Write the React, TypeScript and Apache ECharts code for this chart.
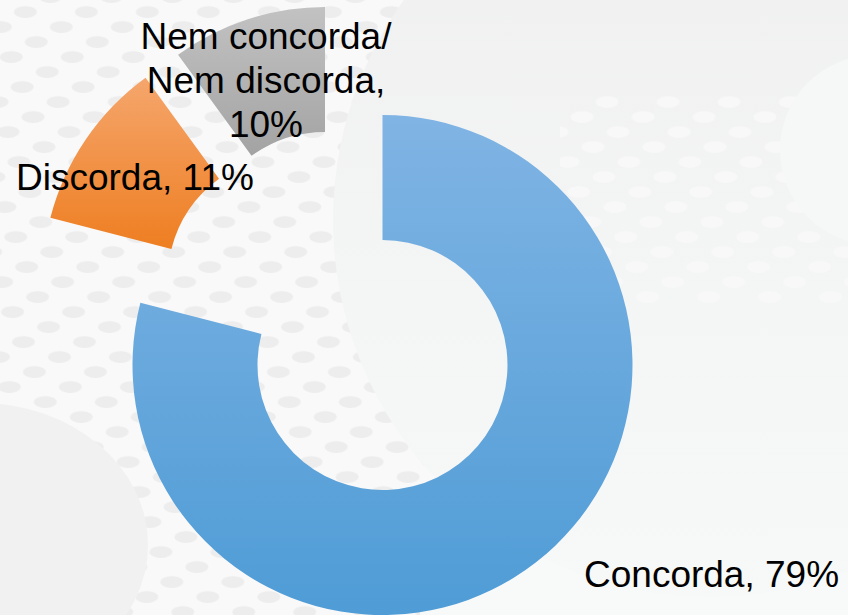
import React, { useEffect, useRef } from "react";
import * as echarts from "echarts";

// ---- data ----
const categories: string[] = ["Concorda", "Discorda", "Nem concorda/\nNem discorda"];
const values: number[] = [79, 11, 10];

// ---- styles ----
const colorsTop: string[] = ["#80b4e4", "#f5a66d", "#c2c2c2"];
const colorsBottom: string[] = ["#4f9cd6", "#ee7e21", "#a3a3a3"];

// ---- layout (exploded slices get their own centre) ----
const centers: [number, number][] = [
  [382.5, 365],
  [292.5, 280],
  [325, 257],
];
const labelPos: [number, number, string][] = [
  [584, 574, "left"],
  [16, 177, "left"],
  [266, 80, "center"],
];

function gradient(i: number) {
  return new echarts.graphic.LinearGradient(0, 0, 0, 1, [
    { offset: 0, color: colorsTop[i] },
    { offset: 1, color: colorsBottom[i] },
  ]);
}

function Background() {
  return (
    <svg
      width={848}
      height={615}
      style={{ position: "absolute", left: 0, top: 0 }}
    >
      <defs>
        <pattern
          id="dots"
          width="61"
          height="30"
          patternUnits="userSpaceOnUse"
          patternTransform="skewX(20) translate(6 4)"
        >
          <ellipse cx="0" cy="0" rx="11.5" ry="6" fill="#ededed" transform="translate(15 8) skewX(-20)" />
          <ellipse cx="0" cy="0" rx="11.5" ry="6" fill="#ededed" transform="translate(45.5 23) skewX(-20)" />
        </pattern>
        <pattern
          id="dotsW"
          width="61"
          height="30"
          patternUnits="userSpaceOnUse"
          patternTransform="skewX(20) translate(6 4)"
        >
          <ellipse cx="0" cy="0" rx="11.5" ry="6" fill="#f9f9f9" transform="translate(15 8) skewX(-20)" />
          <ellipse cx="0" cy="0" rx="11.5" ry="6" fill="#f9f9f9" transform="translate(45.5 23) skewX(-20)" />
        </pattern>
        <linearGradient id="disc" x1="0" y1="0" x2="0" y2="1">
          <stop offset="0" stopColor="#efefef" />
          <stop offset="0.6" stopColor="#f4f5f5" />
          <stop offset="1" stopColor="#f7f8f8" />
        </linearGradient>
        <clipPath id="discClip">
          <circle cx="710" cy="220" r="377" />
        </clipPath>
      </defs>
      <rect x="0" y="0" width="848" height="615" fill="#f9f9f9" />
      <rect x="0" y="0" width="848" height="615" fill="url(#dots)" />
      <rect x="600" y="420" width="248" height="195" fill="#f7f8f8" />
      <rect x="420" y="560" width="428" height="55" fill="#f8f9f9" />
      <circle cx="710" cy="220" r="377" fill="url(#disc)" />
      <g clipPath="url(#discClip)">
        <rect x="560" y="95" width="288" height="210" fill="url(#dotsW)" opacity="0.8" />
      </g>
      <circle cx="875" cy="150" r="95" fill="#f6f7f7" />
      <ellipse cx="-20" cy="545" rx="168" ry="142" fill="#f1f1f1" />
    </svg>
  );
}

export default function App() {
  const ref = useRef<HTMLDivElement>(null);

  useEffect(() => {
    if (!ref.current) return;
    const chart = echarts.init(ref.current, null, { renderer: "svg" });
    const series = categories.map((_, k) => ({
      type: "pie",
      radius: [125, 250],
      center: centers[k],
      startAngle: 90,
      clockwise: true,
      silent: true,
      avoidLabelOverlap: false,
      emphasis: { disabled: true },
      itemStyle: { borderWidth: 0 },
      label: {
        show: true,
        position: "outside",
        fontSize: 37,
        fontFamily: "'Liberation Sans', Arial, sans-serif",
        color: "#000000",
        lineHeight: 44,
        formatter: (p: any) =>
          p.name.indexOf("\n") >= 0
            ? `${p.name},\n${p.percent}%`
            : `${p.name}, ${p.percent}%`,
      },
      labelLine: { show: false },
      labelLayout: () => ({
        x: labelPos[k][0],
        y: labelPos[k][1],
        align: labelPos[k][2],
        verticalAlign: "middle",
      }),
      data: categories.map((name, i) => ({
        name,
        value: values[i],
        itemStyle: { color: i === k ? gradient(i) : "rgba(0,0,0,0)" },
        label: { show: i === k },
      })),
    }));
    chart.setOption({
      animation: false,
      backgroundColor: "transparent",
      series,
    } as any);
    return () => chart.dispose();
  }, []);

  return (
    <div
      style={{
        position: "fixed",
        left: 0,
        top: 0,
        width: 848,
        height: 615,
        overflow: "hidden",
      }}
    >
      <Background />
      <div
        ref={ref}
        style={{ position: "absolute", left: 0, top: 0, width: 848, height: 615 }}
      />
    </div>
  );
}
